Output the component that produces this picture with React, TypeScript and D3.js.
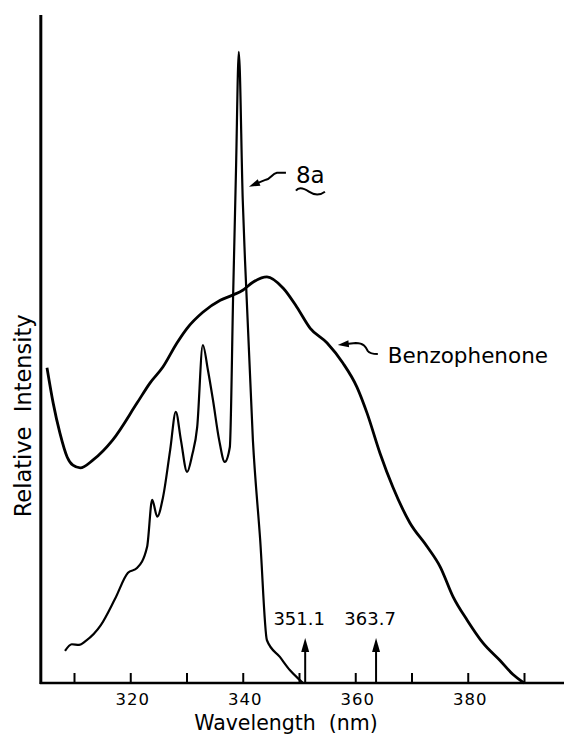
import { useEffect, useRef } from "react";
import * as d3 from "d3";

// wavelength (nm) / relative intensity (0-100)
const benzoWavelength = [
  305.2, 306.3, 307.5, 308.8, 309.8, 311.1, 313.4, 316.9, 321.2, 323.5, 325.8,
  328.3, 330.1, 332.9, 336.0, 338.3, 340.0, 341.8, 344.3, 347.2, 349.6, 352.0,
  355.0, 357.8, 360.3, 362.1, 364.4, 366.7, 369.7, 372.8, 375.1, 377.4, 379.9,
  382.7, 385.7, 388.0, 390.0,
];
const benzoIntensity = [
  47.2, 41.9, 37.4, 33.8, 32.6, 32.2, 33.4, 36.4, 41.9, 44.9, 47.3, 50.9, 53.1,
  55.5, 57.3, 58.1, 58.8, 60.0, 60.8, 59.1, 56.3, 53.1, 50.9, 47.9, 44.3, 40.4,
  34.4, 29.3, 24.0, 20.4, 17.4, 12.9, 9.4, 6.0, 3.4, 1.3, 0,
];

const s8aWavelength = [
  308.4, 309.6, 310.9, 312.1, 314.8, 317.3, 319.6, 321.2, 323.0, 323.9, 324.8,
  325.8, 327.1, 328.1, 329.0, 330.1, 331.0, 331.9, 332.9, 333.8, 334.7, 335.8,
  336.8, 337.7, 338.3, 338.8, 339.3, 340.0, 340.4, 341.8, 343.1, 344.3, 346.6,
  348.4, 350.2, 350.7,
];
const s8aIntensity = [
  4.8, 5.8, 5.7, 6.3, 8.7, 12.6, 16.5, 17.2, 20.4, 27.4, 24.9, 27.7, 34.9, 40.6,
  36.4, 31.6, 34.1, 38.3, 50.6, 46.9, 42.4, 36.4, 33.1, 35.3, 58.4, 76.8, 94.5,
  72.3, 63.3, 36.4, 21.4, 6.4, 3.9, 1.9, 0.4, 0,
];

const tickValues = [310, 320, 330, 340, 350, 360, 370, 380, 390];
const tickLabels = ["", "320", "", "340", "", "360", "", "380", ""];

const markerWavelengths = [351.1, 363.7];
const markerLabels = ["351.1", "363.7"];

const FONT = "'DejaVu Sans', sans-serif";

export default function App() {
  const ref = useRef<SVGSVGElement>(null);

  useEffect(() => {
    const svg = d3.select(ref.current);
    svg.selectAll("*").remove();

    const x = d3.scaleLinear().domain([310, 390]).range([74, 524]);
    const y = d3.scaleLinear().domain([0, 100]).range([683, 15]);

    const x0 = x(304.1);
    const y0 = y(0);

    // axes
    svg
      .append("line")
      .attr("x1", x0)
      .attr("x2", x0)
      .attr("y1", y(100))
      .attr("y2", y0 + 1)
      .attr("stroke", "#000")
      .attr("stroke-width", 3);

    const axis = d3
      .axisBottom(x)
      .tickValues(tickValues)
      .tickSizeInner(-10)
      .tickSizeOuter(0)
      .tickPadding(10)
      .tickFormat((_, i) => tickLabels[i]);

    const gx = svg
      .append("g")
      .attr("transform", `translate(0,${y0})`)
      .call(axis);
    gx.select(".domain").remove();
    gx.selectAll(".tick line").attr("stroke", "#000").attr("stroke-width", 2);
    gx.selectAll(".tick text")
      .attr("fill", "#000")
      .attr("dx", 2)
      .style("font-family", FONT)
      .style("font-size", "16.5px")
      .style("letter-spacing", "1px");

    svg
      .append("line")
      .attr("x1", x0 - 1)
      .attr("x2", 564)
      .attr("y1", y0)
      .attr("y2", y0)
      .attr("stroke", "#000")
      .attr("stroke-width", 2.5);

    // spectra
    const line = d3
      .line<[number, number]>()
      .x((d) => x(d[0]))
      .y((d) => y(d[1]))
      .curve(d3.curveMonotoneX);

    const benzo = benzoWavelength.map((w, i) => [w, benzoIntensity[i]] as [number, number]);
    const s8a = s8aWavelength.map((w, i) => [w, s8aIntensity[i]] as [number, number]);

    svg
      .append("path")
      .attr("d", line(benzo))
      .attr("fill", "none")
      .attr("stroke", "#000")
      .attr("stroke-width", 2.8)
      .attr("stroke-linejoin", "round");

    svg
      .append("path")
      .attr("d", line(s8a))
      .attr("fill", "none")
      .attr("stroke", "#000")
      .attr("stroke-width", 2.2)
      .attr("stroke-linejoin", "round");

    // marker arrows
    markerWavelengths.forEach((w, i) => {
      const mx = x(w);
      svg
        .append("line")
        .attr("x1", mx)
        .attr("x2", mx)
        .attr("y1", y0)
        .attr("y2", y0 - 36)
        .attr("stroke", "#000")
        .attr("stroke-width", 2);
      svg
        .append("path")
        .attr("d", `M${mx},${y0 - 45}L${mx - 4},${y0 - 31}L${mx + 4},${y0 - 31}Z`)
        .attr("fill", "#000");
      svg
        .append("text")
        .attr("x", mx - 6)
        .attr("y", y0 - 58)
        .attr("text-anchor", "middle")
        .style("font-family", FONT)
        .style("font-size", "18px")
        .text(markerLabels[i]);
    });

    // curve labels with squiggly arrows
    const arrowHead = (tx: number, ty: number, ang: number) => {
      const len = 11,
        half = 3.5;
      const c = Math.cos(ang),
        s = Math.sin(ang);
      const bx = tx + len * c,
        by = ty + len * s;
      return `M${tx},${ty}L${bx - half * s},${by + half * c}L${bx + half * s},${by - half * c}Z`;
    };

    // 8a
    const ax = x(341.1),
      ay = y(74.3);
    svg
      .append("path")
      .attr(
        "d",
        `M${ax + 6},${ay - 2.5}L${ax + 17},${ay - 7}C${ax + 22},${ay - 8} ${ax + 23},${ay - 13} ${ax + 28},${ay - 14}L${ax + 37},${ay - 14}`
      )
      .attr("fill", "none")
      .attr("stroke", "#000")
      .attr("stroke-width", 2);
    svg.append("path").attr("d", arrowHead(ax, ay, Math.atan2(-7, 17))).attr("fill", "#000");
    svg
      .append("text")
      .attr("x", ax + 47)
      .attr("y", ay - 4)
      .style("font-family", FONT)
      .style("font-size", "23px")
      .text("8a");
    svg
      .append("path")
      .attr(
        "d",
        `M${ax + 47},${ay + 4}C${ax + 50},${ay} ${ax + 54},${ay + 1} ${ax + 60},${ay + 5}S${ax + 72},${ay + 8} ${ax + 76},${ay + 5}`
      )
      .attr("fill", "none")
      .attr("stroke", "#000")
      .attr("stroke-width", 2);

    // Benzophenone
    const bx = x(356.9),
      by = y(50.6);
    svg
      .append("path")
      .attr(
        "d",
        `M${bx + 6},${by - 0.7}L${bx + 18},${by - 2}C${bx + 26},${by - 2} ${bx + 28},${by + 2} ${bx + 30},${by + 6}C${bx + 32},${by + 9} ${bx + 36},${by + 9} ${bx + 40},${by + 9}`
      )
      .attr("fill", "none")
      .attr("stroke", "#000")
      .attr("stroke-width", 2);
    svg.append("path").attr("d", arrowHead(bx, by, Math.atan2(-2, 18))).attr("fill", "#000");
    svg
      .append("text")
      .attr("x", bx + 50)
      .attr("y", by + 18)
      .style("font-family", FONT)
      .style("font-size", "21.5px")
      .text("Benzophenone");

    // axis titles
    svg
      .append("text")
      .attr("x", 286)
      .attr("y", 730)
      .attr("text-anchor", "middle")
      .style("font-family", FONT)
      .style("font-size", "20.5px")
      .attr("xml:space", "preserve")
      .text("Wavelength  (nm)");

    svg
      .append("text")
      .attr("transform", `translate(31,${y(40)}) rotate(-90)`)
      .attr("text-anchor", "middle")
      .style("font-family", FONT)
      .style("font-size", "22.5px")
      .attr("xml:space", "preserve")
      .text("Relative  Intensity");
  }, []);

  return (
    <svg
      ref={ref}
      width={564}
      height={736}
      style={{ position: "absolute", left: 0, top: 0, background: "#fff" }}
    />
  );
}
